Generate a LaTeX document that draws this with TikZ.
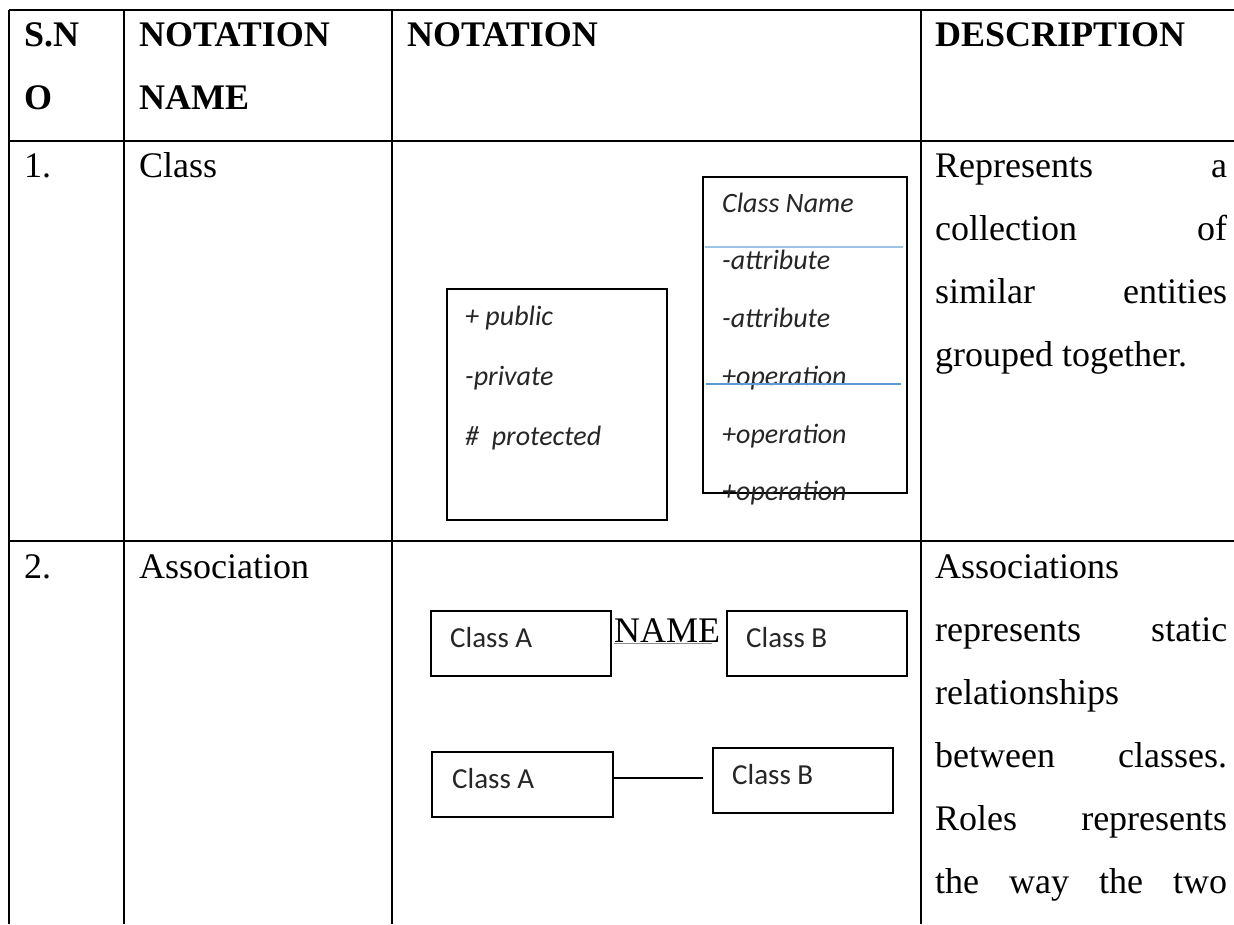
\documentclass[tikz,border=0pt]{standalone}
\usepackage{fontspec}
\setmainfont{Liberation Serif}
\newfontfamily\calfont{Carlito}
\begin{document}
\begin{tikzpicture}[x=1pt,y=-1pt,
  grid/.style={line width=2.4pt,black},
  txt/.style={anchor=base west,inner sep=0pt,font=\fontsize{36}{63}\selectfont},
  hd/.style={txt,font=\fontsize{36}{63}\selectfont\bfseries},
  umlbox/.style={draw,line width=1.6pt,inner sep=0pt},
  it/.style={anchor=base west,inner sep=0pt,text=black!85,font=\calfont\fontsize{28}{34}\selectfont\itshape},
  cb/.style={anchor=base west,inner sep=0pt,text=black!85,font=\calfont\fontsize{29}{34}\selectfont},
  jl/.style={txt,text width=292pt}]
\useasboundingbox (0,0) rectangle (1234,924);
\fill[white] (0,0) rectangle (1234,924);
% table grid
\coordinate (tl) at (9,10);
\coordinate (tr) at (1234,10);
\coordinate (h1l) at (9,141);
\coordinate (h1r) at (1234,141);
\coordinate (h2l) at (9,541);
\coordinate (h2r) at (1234,541);
\draw[grid] (tl) -- (tr);
\draw[grid] (h1l) -- (h1r);
\draw[grid] (h2l) -- (h2r);
\foreach \x/\n in {9/a,124/b,392/c,921/d}{
  \coordinate (v\n t) at (\x,10);
  \coordinate (v\n b) at (\x,924);
  \draw[grid] (v\n t) -- (v\n b);
}
% header
\node[hd] (h1) at (24,46) {S.N};
\node[hd] (h1b) at (24,109) {O};
\node[hd] (h2) at (139,46) {NOTATION};
\node[hd] (h2b) at (139,109) {NAME};
\node[hd] (h3) at (407,46) {NOTATION};
\node[hd] (h4) at (935,46) {DESCRIPTION};
% row 1
\node[txt] (n1) at (24,177) {1.};
\node[txt] (c1) at (139,177) {Class};
\node[txt] (d1a) at (935,177) {\hbox to 292pt{Represents\hfill a}};
\node[txt] (d1b) at (935,240) {\hbox to 292pt{collection\hfill of}};
\node[txt] (d1c) at (935,303) {\hbox to 292pt{similar\hfill entities}};
\node[txt] (d1d) at (935,366) {grouped together.};
% class boxes
\node[umlbox,minimum width=220pt,minimum height=231pt] (vis) at (557,404.5) {};
\node[it] (p1) at (465,325) {+ public};
\node[it] (p2) at (465,385) {-private};
\node[it] (p3) at (465,445) {\#\ \ protected};
\node[umlbox,minimum width=204pt,minimum height=316pt] (cls) at (805,335) {};
\node[it] (cn) at (722,212) {Class Name};
\node[it] (a1) at (722,269) {-attribute};
\node[it] (a2) at (722,327) {-attribute};
\node[it] (o1) at (722,385) {+operation};
\node[it] (o2) at (722,443) {+operation};
\node[it] (o3) at (722,500) {+operation};
\coordinate (s1l) at (705,247);
\coordinate (s1r) at (903,247);
\coordinate (s2l) at (706,384);
\coordinate (s2r) at (901,384);
\draw[line width=2pt,color={rgb,255:red,157;green,195;blue,230}] (s1l) -- (s1r);
\draw[line width=2pt,color={rgb,255:red,91;green,155;blue,213}] (s2l) -- (s2r);
% row 2
\node[txt] (n2) at (24,578) {2.};
\node[txt] (c2) at (139,578) {Association};
\node[txt] (d2a) at (935,578) {Associations};
\node[txt] (d2b) at (935,641) {\hbox to 292pt{represents\hfill static}};
\node[txt] (d2c) at (935,704) {relationships};
\node[txt] (d2d) at (935,767) {\hbox to 292pt{between\hfill classes.}};
\node[txt] (d2e) at (935,830) {\hbox to 292pt{Roles\hfill represents}};
\node[txt] (d2f) at (935,893) {\hbox to 292pt{the\hfill way\hfill the\hfill two}};
% association boxes
\node[umlbox,minimum width=180pt,minimum height=65pt] (A1) at (521,643.5) {};
\node[cb] (A1t) at (450,647) {Class A};
\node[umlbox,minimum width=180pt,minimum height=65pt] (B1) at (817,643.5) {};
\node[cb] (B1t) at (746,647) {Class B};
\coordinate (ul1) at (614,643);
\coordinate (ul2) at (712,643);
\draw[line width=1pt,black!45] (ul1) -- (ul2);
\node[txt] (nm) at (614,642) {NAME};
\node[umlbox,minimum width=181pt,minimum height=65pt] (A2) at (522.5,784.5) {};
\node[cb] (A2t) at (452,788) {Class A};
\node[umlbox,minimum width=180pt,minimum height=65pt] (B2) at (803,780.5) {};
\node[cb] (B2t) at (732,784) {Class B};
\coordinate (lend) at (703,778);
\draw[line width=2.4pt] (A2.east |- lend) -- (lend);
\end{tikzpicture}
\end{document}
